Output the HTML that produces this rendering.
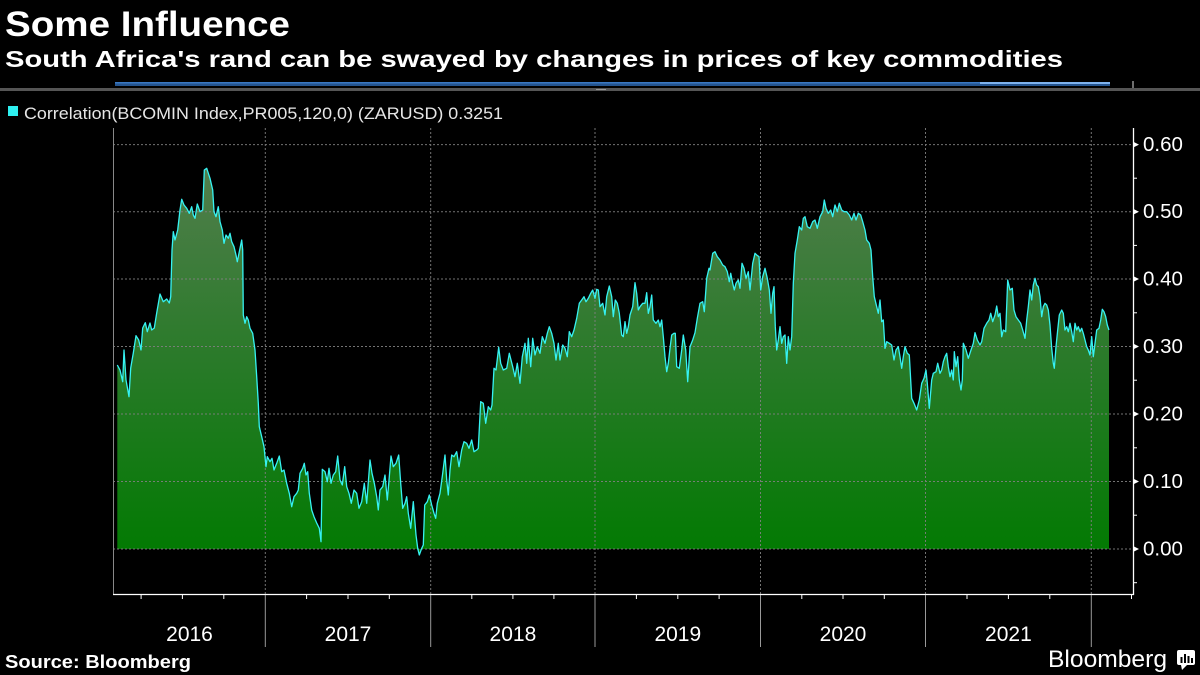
<!DOCTYPE html>
<html>
<head>
<meta charset="utf-8">
<style>
html,body{margin:0;padding:0;background:#000;}
svg{display:block;}
text{font-family:"Liberation Sans",Arial,sans-serif;}
</style>
</head>
<body>
<svg width="1200" height="675" viewBox="0 0 1200 675" xmlns="http://www.w3.org/2000/svg">
<defs>
<linearGradient id="fg" gradientUnits="userSpaceOnUse" x1="0" y1="165" x2="0" y2="549">
<stop offset="0" stop-color="#527e4d"/>
<stop offset="0.55" stop-color="#267a26"/>
<stop offset="1" stop-color="#037a03"/>
</linearGradient>
</defs>
<rect width="1200" height="675" fill="#000"/>

<!-- Titles -->
<text x="5" y="36" font-size="35" font-weight="bold" fill="#fff" textLength="285" lengthAdjust="spacingAndGlyphs">Some Influence</text>
<text x="5" y="67" font-size="23" font-weight="bold" fill="#fff" textLength="1058" lengthAdjust="spacingAndGlyphs">South Africa's rand can be swayed by changes in prices of key commodities</text>

<!-- navigator strip -->
<rect x="115" y="82" width="995" height="4" fill="#24548f"/>
<rect x="115" y="82" width="995" height="1.5" fill="#3a78c2"/>
<rect x="980" y="82" width="130" height="2" fill="#7fb3ee"/>
<rect x="0" y="88" width="1200" height="3" fill="#555"/>
<line x1="1133" y1="81" x2="1133" y2="88" stroke="#ddd" stroke-width="1"/>
<rect x="596" y="89" width="10" height="1" fill="#999"/>

<!-- Legend -->
<rect x="8" y="106" width="10" height="10" fill="#2ef0f0"/>
<text x="24" y="119" font-size="17" fill="#e6e6e6" textLength="479" lengthAdjust="spacingAndGlyphs">Correlation(BCOMIN Index,PR005,120,0) (ZARUSD) 0.3251</text>

<!-- Fill + line -->
<path fill="url(#fg)" d="M117.3,549 L117.3,365 120,370 122.7,381.7 124,350 126,380 129,396.7 130.7,368 133.3,353 136,335.7 138.7,340 141,350 142.7,328 145.3,322.7 147.3,331.7 150,323 151.7,330 154.3,328 156.7,313 160,294 163.3,301.7 166.7,299 169.3,303 170.7,296.7 172,250 173.3,231.7 175,240 177.7,230 180,210 181.7,199.3 184,205 186.7,208.3 189.3,213.3 191.7,206.7 193.3,215 195,218.3 197.3,204 200,211.7 202.7,210 204.3,170 206.7,168.3 210,178.3 212.7,190 214,211.7 216,216.7 218.3,206.7 220,221.7 222.3,230 224,243.3 226,235 228.3,238.3 230,233.3 231.7,241.7 234,246.7 236,255 237.3,261.7 239.3,251.7 241.7,240 242.7,250 243.3,315 245,323.3 246.7,316.7 248.3,320 250,328.3 252.7,333.3 255,350 256.7,376.7 258.3,403.3 259.3,426.7 261.7,436.7 264,446.7 266,466.7 267.3,456.7 270,461.7 272,458.3 274,470 276.7,463.3 279.3,456 281.7,471.7 284,470 286.7,483.3 289.3,493.3 291.7,506.7 294,496.7 296.7,493.3 298.3,490 300,473.3 302.7,468.3 304.3,463.3 306,475 307.7,471.7 309.3,493.3 311.7,510 314,516.7 316.7,523 319.3,528.3 321,541.7 322.3,469.3 325,471.7 327.3,481.7 329,468.3 331,483.3 333.3,475 335.7,471.7 337.7,456 340,480 342.3,485 344.7,466.7 346.7,486.7 349,493.3 351.3,503.3 354,490 356.7,493.3 359,508.3 361.7,501.7 364.3,483.3 366.7,503.3 370,460 372,473.3 374.3,483.3 376.7,496.7 378.3,510 380,490 382.7,486.7 385,475 387.3,500 389.3,476.7 391,456 393.3,466.7 396,463.3 398.7,455 400.7,483.3 402.7,508.3 405,503.3 406.7,496.7 408.3,513.3 410.7,528.3 413.3,501.7 416,535 417.7,548.3 419.3,555 421.7,548.3 423.3,545 424.7,505 427.3,501.7 429.3,495 431.7,505 434,513.3 435.7,518.3 437.3,503.3 440,493.3 442.7,473.3 445,455 446.7,480 448.3,495 450,470 451.7,455 454,456.7 456.7,451.7 459,466.7 461.7,450 464,441.7 466.7,443.3 469,448.3 471.7,440 474,451.7 476.7,450 478.3,448.3 480.7,401.7 483.3,403.3 485.7,423.3 488.3,406.7 490.7,410 492,405 494,368.3 496,370 498.7,347.3 500.7,363.3 503.3,370 506.7,368.3 509.3,353.3 512.7,366.7 515,376.7 517.3,363.3 520,383.3 522.3,356.7 525,343.3 526.7,363.3 528.3,338.3 530.7,366.7 532.7,338.3 535,355 537.3,346.7 540,353.3 542.3,336.7 545,343.3 547.3,333.3 549.3,326.7 551.7,333.3 554,343.3 556,360 558.3,343.3 560,360 562.7,345 565,348.3 567.3,356.7 569.3,331.7 571.7,336.7 574,330 576.7,318.3 579.3,303.3 581.7,300 584,296.7 586,301.7 588.3,298.3 590.7,293.3 592.7,290 595,298.3 596.7,289.3 598.3,290 600,306.7 602.7,303.3 605,315 606.7,296.7 609.3,286 611.7,296.7 613.3,316.7 615.3,300 617.3,303.3 619.3,313.3 621.7,335 623.3,336.7 625,321.7 626.7,333.3 628.3,326.7 630,315 632.7,306.7 635,282.7 636.7,293.3 638.3,310 640,306.7 642.7,303.3 645,303.3 646.7,292.7 648.3,313.3 650,306.7 651.7,295 653.3,320 656,323.3 658.3,320 660,326.7 661.7,320 663.3,336.7 665,356.7 666.7,371.7 668.3,363.3 670,348.3 671.7,335 674,333.3 675.3,333.3 676.7,366.7 679.3,368.3 681.7,350 683.3,335 685.7,350 687.7,381.7 690,346.7 692.7,340 695,332.7 697.3,318.3 700,303.3 702.7,301.7 704.3,311.7 706.7,278.3 709,268.3 710,270 712.7,253.3 715,251.7 717.3,256.7 720,260 722.7,265 725,266.7 727.3,271.7 729.3,281.7 730.7,273.3 732.7,283.3 734.3,290 736,283.3 738.3,280 740,288.3 742,263.3 744,268.3 746,278.3 748.3,271.7 750,290 752.7,263.3 755,253.3 756.7,255 759,256.7 760.7,290 762.7,276.7 765,268.3 767.3,278.3 769.3,290 771,313.3 772.7,293.3 774,286.7 775.3,326.7 776.7,350 778.3,340 780,326.7 781.7,343.3 783.3,336.7 785,335 786.7,363.3 788.3,336.7 790,350 791.7,336.7 793.3,283.3 795,253.3 797.3,240 799.3,226.7 801.7,230 803.3,218.3 805,216.7 807.3,226.7 810,228.3 812.7,221.7 815,220 817.3,228.3 820,216.7 822.7,211.7 824.3,200 826,208.3 828.3,213.3 830.7,210 832.7,216.7 835,205 837.3,211.7 839.3,203.3 841.7,210 844,211.7 846.7,211.7 849.3,215 851.7,220 854,213.3 856,220 858.3,213.3 860.7,215 862.7,221.7 865,230 866.7,240 869.3,243.3 871,250 872.7,276.7 874.3,296.7 876.7,306.7 878.3,313.3 880,300 881.7,321.7 883.3,320 885,348.3 886.7,341.7 889.3,343.3 891.7,345 894,360 896,350 898.3,346.7 900,356.7 901.7,368.3 903.3,356.7 905,346.7 907.3,353.3 909.3,355 911.7,398.3 914,403.3 916.7,410 919.3,400 921.7,383.3 924,378.3 926,370 927.3,383.3 929.3,408.3 931.7,380 933.3,373.3 936,371.7 937.7,363.3 940,373.3 941.7,370 943.3,361.7 945,356.7 946.7,353.3 948.3,366.7 950,376.7 951.7,370 953.3,380 954.3,351.7 956,366.7 957.7,356.7 959.3,380 961,390 962.3,380 963.3,343.3 966,350 968.3,358.3 971,350 973.3,343.3 975,332.7 977.3,340 980,345 981.7,341.7 984,328.3 986.7,323.3 989,320 990.7,313.3 992.7,321.7 995,315 996.7,306 998.3,316.7 1000,313.3 1001.7,336.7 1003.3,330 1005.7,331.7 1007.7,280 1010,290 1012.3,288.3 1014,310 1016,316.7 1018.3,320 1020.7,323.3 1022.7,330 1025,338.3 1026.7,320 1028.3,306.7 1030,290 1031.7,300 1033.3,285 1035,278.3 1036.7,285 1038.3,286.7 1040,296.7 1041.7,316.7 1043.3,306.7 1045,303.3 1046.7,305 1048.3,310 1050,325 1051.7,348.3 1053.3,363.3 1054.3,368.3 1056,346.7 1057.7,330 1059.3,315 1061.7,310 1063.3,313.3 1065,330 1066.7,326.7 1068.3,331.7 1070,323.3 1071.7,331.7 1073.3,341.7 1075,323.3 1076.7,330 1078.3,326.7 1080,331.7 1081.7,328.3 1083.3,333.3 1085,340 1086.7,346.7 1088.3,350 1090,355 1091.7,336.7 1093.3,356.7 1095,343.3 1096.7,330 1099,328.3 1100.7,320 1102.3,309.3 1104,311.7 1105.7,316.7 1107.3,325 1109,330 L1109,549 Z"/>

<!-- Grid lines -->
<g stroke="#808080" stroke-width="1" stroke-dasharray="2,2" fill="none" opacity="0.9">
<line x1="113" y1="144.6" x2="1133" y2="144.6"/>
<line x1="113" y1="211.7" x2="1133" y2="211.7"/>
<line x1="113" y1="279" x2="1133" y2="279"/>
<line x1="113" y1="346.5" x2="1133" y2="346.5"/>
<line x1="113" y1="414" x2="1133" y2="414"/>
<line x1="113" y1="481.5" x2="1133" y2="481.5"/>
<line x1="113" y1="549" x2="1133" y2="549"/>
<line x1="265.3" y1="128" x2="265.3" y2="594"/>
<line x1="430.7" y1="128" x2="430.7" y2="594"/>
<line x1="595" y1="128" x2="595" y2="594"/>
<line x1="760.5" y1="128" x2="760.5" y2="594"/>
<line x1="925.5" y1="128" x2="925.5" y2="594"/>
<line x1="1091.3" y1="128" x2="1091.3" y2="594"/>
</g>

<!-- Series line -->
<polyline fill="none" stroke="#36f2f2" stroke-width="1.3" stroke-linejoin="round" points="117.3,365 120,370 122.7,381.7 124,350 126,380 129,396.7 130.7,368 133.3,353 136,335.7 138.7,340 141,350 142.7,328 145.3,322.7 147.3,331.7 150,323 151.7,330 154.3,328 156.7,313 160,294 163.3,301.7 166.7,299 169.3,303 170.7,296.7 172,250 173.3,231.7 175,240 177.7,230 180,210 181.7,199.3 184,205 186.7,208.3 189.3,213.3 191.7,206.7 193.3,215 195,218.3 197.3,204 200,211.7 202.7,210 204.3,170 206.7,168.3 210,178.3 212.7,190 214,211.7 216,216.7 218.3,206.7 220,221.7 222.3,230 224,243.3 226,235 228.3,238.3 230,233.3 231.7,241.7 234,246.7 236,255 237.3,261.7 239.3,251.7 241.7,240 242.7,250 243.3,315 245,323.3 246.7,316.7 248.3,320 250,328.3 252.7,333.3 255,350 256.7,376.7 258.3,403.3 259.3,426.7 261.7,436.7 264,446.7 266,466.7 267.3,456.7 270,461.7 272,458.3 274,470 276.7,463.3 279.3,456 281.7,471.7 284,470 286.7,483.3 289.3,493.3 291.7,506.7 294,496.7 296.7,493.3 298.3,490 300,473.3 302.7,468.3 304.3,463.3 306,475 307.7,471.7 309.3,493.3 311.7,510 314,516.7 316.7,523 319.3,528.3 321,541.7 322.3,469.3 325,471.7 327.3,481.7 329,468.3 331,483.3 333.3,475 335.7,471.7 337.7,456 340,480 342.3,485 344.7,466.7 346.7,486.7 349,493.3 351.3,503.3 354,490 356.7,493.3 359,508.3 361.7,501.7 364.3,483.3 366.7,503.3 370,460 372,473.3 374.3,483.3 376.7,496.7 378.3,510 380,490 382.7,486.7 385,475 387.3,500 389.3,476.7 391,456 393.3,466.7 396,463.3 398.7,455 400.7,483.3 402.7,508.3 405,503.3 406.7,496.7 408.3,513.3 410.7,528.3 413.3,501.7 416,535 417.7,548.3 419.3,555 421.7,548.3 423.3,545 424.7,505 427.3,501.7 429.3,495 431.7,505 434,513.3 435.7,518.3 437.3,503.3 440,493.3 442.7,473.3 445,455 446.7,480 448.3,495 450,470 451.7,455 454,456.7 456.7,451.7 459,466.7 461.7,450 464,441.7 466.7,443.3 469,448.3 471.7,440 474,451.7 476.7,450 478.3,448.3 480.7,401.7 483.3,403.3 485.7,423.3 488.3,406.7 490.7,410 492,405 494,368.3 496,370 498.7,347.3 500.7,363.3 503.3,370 506.7,368.3 509.3,353.3 512.7,366.7 515,376.7 517.3,363.3 520,383.3 522.3,356.7 525,343.3 526.7,363.3 528.3,338.3 530.7,366.7 532.7,338.3 535,355 537.3,346.7 540,353.3 542.3,336.7 545,343.3 547.3,333.3 549.3,326.7 551.7,333.3 554,343.3 556,360 558.3,343.3 560,360 562.7,345 565,348.3 567.3,356.7 569.3,331.7 571.7,336.7 574,330 576.7,318.3 579.3,303.3 581.7,300 584,296.7 586,301.7 588.3,298.3 590.7,293.3 592.7,290 595,298.3 596.7,289.3 598.3,290 600,306.7 602.7,303.3 605,315 606.7,296.7 609.3,286 611.7,296.7 613.3,316.7 615.3,300 617.3,303.3 619.3,313.3 621.7,335 623.3,336.7 625,321.7 626.7,333.3 628.3,326.7 630,315 632.7,306.7 635,282.7 636.7,293.3 638.3,310 640,306.7 642.7,303.3 645,303.3 646.7,292.7 648.3,313.3 650,306.7 651.7,295 653.3,320 656,323.3 658.3,320 660,326.7 661.7,320 663.3,336.7 665,356.7 666.7,371.7 668.3,363.3 670,348.3 671.7,335 674,333.3 675.3,333.3 676.7,366.7 679.3,368.3 681.7,350 683.3,335 685.7,350 687.7,381.7 690,346.7 692.7,340 695,332.7 697.3,318.3 700,303.3 702.7,301.7 704.3,311.7 706.7,278.3 709,268.3 710,270 712.7,253.3 715,251.7 717.3,256.7 720,260 722.7,265 725,266.7 727.3,271.7 729.3,281.7 730.7,273.3 732.7,283.3 734.3,290 736,283.3 738.3,280 740,288.3 742,263.3 744,268.3 746,278.3 748.3,271.7 750,290 752.7,263.3 755,253.3 756.7,255 759,256.7 760.7,290 762.7,276.7 765,268.3 767.3,278.3 769.3,290 771,313.3 772.7,293.3 774,286.7 775.3,326.7 776.7,350 778.3,340 780,326.7 781.7,343.3 783.3,336.7 785,335 786.7,363.3 788.3,336.7 790,350 791.7,336.7 793.3,283.3 795,253.3 797.3,240 799.3,226.7 801.7,230 803.3,218.3 805,216.7 807.3,226.7 810,228.3 812.7,221.7 815,220 817.3,228.3 820,216.7 822.7,211.7 824.3,200 826,208.3 828.3,213.3 830.7,210 832.7,216.7 835,205 837.3,211.7 839.3,203.3 841.7,210 844,211.7 846.7,211.7 849.3,215 851.7,220 854,213.3 856,220 858.3,213.3 860.7,215 862.7,221.7 865,230 866.7,240 869.3,243.3 871,250 872.7,276.7 874.3,296.7 876.7,306.7 878.3,313.3 880,300 881.7,321.7 883.3,320 885,348.3 886.7,341.7 889.3,343.3 891.7,345 894,360 896,350 898.3,346.7 900,356.7 901.7,368.3 903.3,356.7 905,346.7 907.3,353.3 909.3,355 911.7,398.3 914,403.3 916.7,410 919.3,400 921.7,383.3 924,378.3 926,370 927.3,383.3 929.3,408.3 931.7,380 933.3,373.3 936,371.7 937.7,363.3 940,373.3 941.7,370 943.3,361.7 945,356.7 946.7,353.3 948.3,366.7 950,376.7 951.7,370 953.3,380 954.3,351.7 956,366.7 957.7,356.7 959.3,380 961,390 962.3,380 963.3,343.3 966,350 968.3,358.3 971,350 973.3,343.3 975,332.7 977.3,340 980,345 981.7,341.7 984,328.3 986.7,323.3 989,320 990.7,313.3 992.7,321.7 995,315 996.7,306 998.3,316.7 1000,313.3 1001.7,336.7 1003.3,330 1005.7,331.7 1007.7,280 1010,290 1012.3,288.3 1014,310 1016,316.7 1018.3,320 1020.7,323.3 1022.7,330 1025,338.3 1026.7,320 1028.3,306.7 1030,290 1031.7,300 1033.3,285 1035,278.3 1036.7,285 1038.3,286.7 1040,296.7 1041.7,316.7 1043.3,306.7 1045,303.3 1046.7,305 1048.3,310 1050,325 1051.7,348.3 1053.3,363.3 1054.3,368.3 1056,346.7 1057.7,330 1059.3,315 1061.7,310 1063.3,313.3 1065,330 1066.7,326.7 1068.3,331.7 1070,323.3 1071.7,331.7 1073.3,341.7 1075,323.3 1076.7,330 1078.3,326.7 1080,331.7 1081.7,328.3 1083.3,333.3 1085,340 1086.7,346.7 1088.3,350 1090,355 1091.7,336.7 1093.3,356.7 1095,343.3 1096.7,330 1099,328.3 1100.7,320 1102.3,309.3 1104,311.7 1105.7,316.7 1107.3,325 1109,330"/>

<!-- Axes -->
<line x1="113.5" y1="128" x2="113.5" y2="594" stroke="#888" stroke-width="1"/>
<line x1="1133.5" y1="128" x2="1133.5" y2="595" stroke="#fff" stroke-width="1.3"/>
<line x1="113" y1="594.5" x2="1134" y2="594.5" stroke="#fff" stroke-width="1.3"/>

<!-- Right axis ticks -->
<g fill="#fff">
<polygon points="1133,141.6 1139,144.6 1133,147.6"/>
<polygon points="1133,208.7 1139,211.7 1133,214.7"/>
<polygon points="1133,276 1139,279 1133,282"/>
<polygon points="1133,343.5 1139,346.5 1133,349.5"/>
<polygon points="1133,411 1139,414 1133,417"/>
<polygon points="1133,478.5 1139,481.5 1133,484.5"/>
<polygon points="1133,546 1139,549 1133,552"/>
</g>
<g stroke="#fff" stroke-width="1">
<line x1="1133" y1="178.2" x2="1137" y2="178.2"/>
<line x1="1133" y1="245.4" x2="1137" y2="245.4"/>
<line x1="1133" y1="312.8" x2="1137" y2="312.8"/>
<line x1="1133" y1="380.2" x2="1137" y2="380.2"/>
<line x1="1133" y1="447.8" x2="1137" y2="447.8"/>
<line x1="1133" y1="515.2" x2="1137" y2="515.2"/>
<line x1="1133" y1="582.7" x2="1137" y2="582.7"/>
</g>
<g font-size="20.5" fill="#fff">
<text x="1143" y="151">0.60</text>
<text x="1143" y="218">0.50</text>
<text x="1143" y="285.5">0.40</text>
<text x="1143" y="353">0.30</text>
<text x="1143" y="420.5">0.20</text>
<text x="1143" y="488">0.10</text>
<text x="1143" y="555.5">0.00</text>
</g>

<!-- X axis ticks -->
<g stroke="#fff" stroke-width="1">
<line x1="141.1" y1="595" x2="141.1" y2="599"/>
<line x1="182.4" y1="595" x2="182.4" y2="599"/>
<line x1="223.8" y1="595" x2="223.8" y2="599"/>
<line x1="306.6" y1="595" x2="306.6" y2="599"/>
<line x1="348" y1="595" x2="348" y2="599"/>
<line x1="389.3" y1="595" x2="389.3" y2="599"/>
<line x1="471.8" y1="595" x2="471.8" y2="599"/>
<line x1="512.9" y1="595" x2="512.9" y2="599"/>
<line x1="553.9" y1="595" x2="553.9" y2="599"/>
<line x1="636.4" y1="595" x2="636.4" y2="599"/>
<line x1="677.8" y1="595" x2="677.8" y2="599"/>
<line x1="719.1" y1="595" x2="719.1" y2="599"/>
<line x1="801.8" y1="595" x2="801.8" y2="599"/>
<line x1="843" y1="595" x2="843" y2="599"/>
<line x1="884.3" y1="595" x2="884.3" y2="599"/>
<line x1="967" y1="595" x2="967" y2="599"/>
<line x1="1008.4" y1="595" x2="1008.4" y2="599"/>
<line x1="1049.8" y1="595" x2="1049.8" y2="599"/>
<line x1="1131.5" y1="595" x2="1131.5" y2="599"/>
</g>
<g stroke="#9a9a9a" stroke-width="1">
<line x1="265.3" y1="595" x2="265.3" y2="647"/>
<line x1="430.7" y1="595" x2="430.7" y2="647"/>
<line x1="595" y1="595" x2="595" y2="647"/>
<line x1="760.5" y1="595" x2="760.5" y2="647"/>
<line x1="925.5" y1="595" x2="925.5" y2="647"/>
<line x1="1091.3" y1="595" x2="1091.3" y2="647"/>
</g>
<g font-size="21" fill="#fff" text-anchor="middle">
<text x="189.5" y="641">2016</text>
<text x="348" y="641">2017</text>
<text x="512.9" y="641">2018</text>
<text x="677.8" y="641">2019</text>
<text x="843" y="641">2020</text>
<text x="1008.4" y="641">2021</text>
</g>

<!-- Footer -->
<text x="5" y="668" font-size="18" font-weight="bold" fill="#fff" textLength="186" lengthAdjust="spacingAndGlyphs">Source: Bloomberg</text>
<text x="1048" y="667" font-size="24" fill="#fff" textLength="119" lengthAdjust="spacingAndGlyphs">Bloomberg</text>
<rect x="1177" y="650" width="18" height="15" rx="2" fill="#fff"/>
<polygon points="1181,665 1187,665 1182,670" fill="#fff"/>
<g fill="#000">
<rect x="1180.5" y="657" width="2" height="6"/>
<rect x="1184" y="654" width="2" height="9"/>
<rect x="1187.5" y="656" width="2" height="7"/>
<rect x="1191" y="658" width="2" height="5"/>
</g>
</svg>
</body>
</html>
